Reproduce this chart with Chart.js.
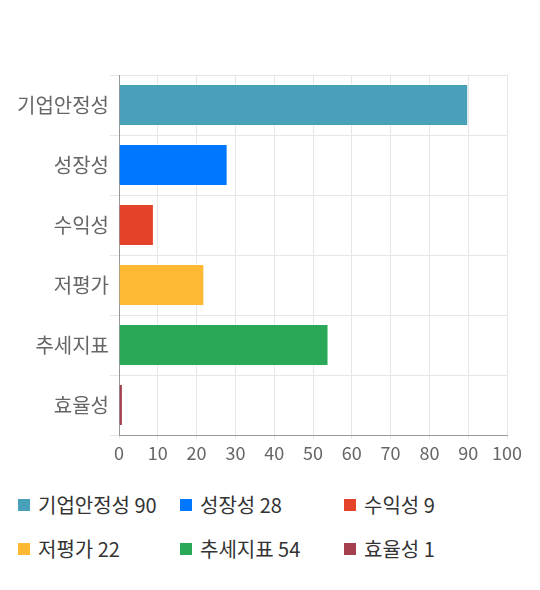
<!DOCTYPE html>
<html><head><meta charset="utf-8">
<script src="https://cdn.jsdelivr.net/npm/chart.js@4.4.0/dist/chart.umd.min.js"></script>
<style>
body{margin:0;background:#fff;font-family:"Noto Sans CJK KR","Noto Sans",sans-serif;}
#wrap{position:relative;width:540px;height:465px;}
#legend{position:absolute;left:18px;top:490px;width:520px;}
.item{position:absolute;display:flex;align-items:center;font-size:20px;line-height:30px;color:#333;white-space:nowrap;}
.sw{width:12px;height:12px;margin-right:8px;}
</style></head><body>
<div id="wrap"><canvas id="c"></canvas></div>
<div id="legend"></div>
<script>
const categories=["기업안정성","성장성","수익성","저평가","추세지표","효율성"];
const values=[90,28,9,22,54,1];
const colors=["#48a0b9","#0077ff","#e4432a","#feb833","#29a857","#a43f4d"];
const xTicks=[0,10,20,30,40,50,60,70,80,90,100];
const ctx=document.getElementById('c');
ctx.width=540;ctx.height=465;
new Chart(ctx,{type:'bar',data:{labels:categories,datasets:[{data:values,backgroundColor:colors,borderColor:'rgba(255,255,255,0.45)',borderWidth:1,barPercentage:0.7,categoryPercentage:1}]},
options:{indexAxis:'y',responsive:false,animation:false,devicePixelRatio:1,
layout:{padding:{top:75,right:33,left:0,bottom:0}},
plugins:{legend:{display:false},tooltip:{enabled:false}},
scales:{
x:{min:0,max:100,afterBuildTicks:s=>{s.ticks=xTicks.map(v=>({value:v}));},
 grid:{color:'#e6e6e6',tickLength:4},border:{color:'#999'},
 ticks:{color:'#666',font:{size:18,family:'"Noto Sans CJK KR","Noto Sans",sans-serif'},padding:3},
 afterFit:s=>{s.height=30;}},
y:{grid:{color:'#e6e6e6',tickLength:9,offset:true},border:{color:'#999'},
 ticks:{color:'#666',font:{size:20,family:'"Noto Sans CJK KR","Noto Sans",sans-serif'},padding:1},
 afterFit:s=>{s.width=119;}}
}}});
const lg=document.getElementById('legend');
categories.forEach((c,i)=>{const d=document.createElement('div');d.className='item';
d.style.left=[0,162,326][i%3]+'px';d.style.top=(Math.floor(i/3)*44)+'px';
d.innerHTML='<span class="sw" style="background:'+colors[i]+'"></span>'+c+' '+values[i];lg.appendChild(d);});
</script></body></html>
